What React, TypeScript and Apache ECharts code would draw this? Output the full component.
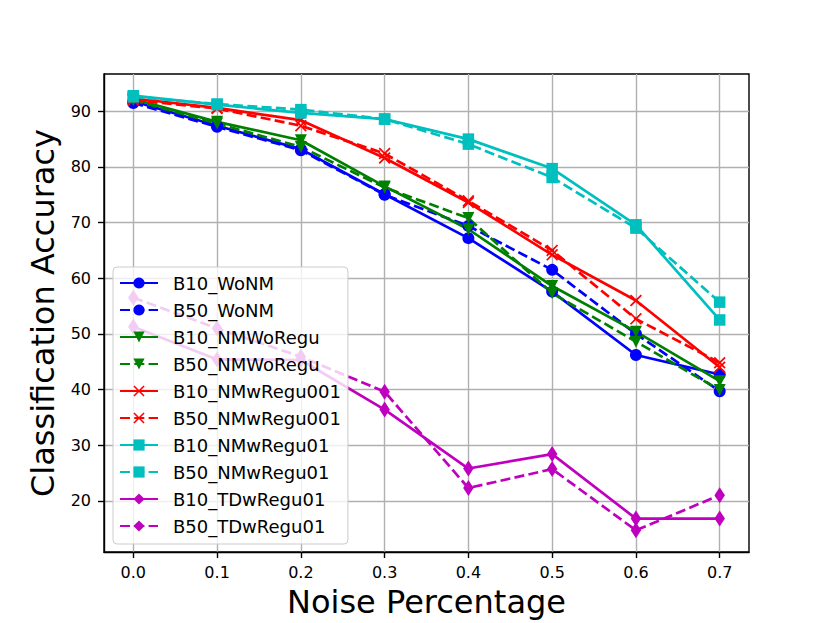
import React, { useEffect, useRef } from "react";
import * as echarts from "echarts";

const NOISE = [0.0, 0.1, 0.2, 0.3, 0.4, 0.5, 0.6, 0.7];
const X_TICKS = [0.0, 0.1, 0.2, 0.3, 0.4, 0.5, 0.6, 0.7];
const Y_TICKS = [20, 30, 40, 50, 60, 70, 80, 90];

const B10_WoNM = [91.8, 87.4, 83.2, 75.1, 67.2, 57.6, 46.2, 42.7];
const B50_WoNM = [91.5, 87.2, 83.0, 75.0, 69.4, 61.5, 50.0, 39.7];
const B10_NMWoRegu = [92.2, 88.1, 84.8, 76.5, 68.8, 58.6, 50.4, 41.5];
const B50_NMWoRegu = [92.0, 87.8, 83.6, 76.3, 70.8, 57.3, 48.6, 39.9];
const B10_NMwRegu001 = [92.3, 90.6, 88.4, 81.6, 73.6, 64.2, 56.0, 44.0];
const B50_NMwRegu001 = [92.0, 90.5, 87.4, 82.4, 73.9, 65.0, 52.7, 44.8];
const B10_NMwRegu01 = [92.8, 91.2, 89.7, 88.6, 85.0, 79.7, 69.6, 52.5];
const B50_NMwRegu01 = [92.6, 91.3, 90.3, 88.6, 84.1, 78.1, 69.0, 55.7];
const B10_TDwRegu01 = [51.3, 45.4, 45.3, 36.4, 25.8, 28.4, 16.8, 16.8];
const B50_TDwRegu01 = [56.5, 51.0, 45.9, 39.6, 22.3, 25.7, 14.7, 21.0];

const X_MARK = "path://M1,0L5,4L9,0L10,1L6,5L10,9L9,10L5,6L1,10L0,9L4,5L0,1Z";
const FONT = "DejaVu Sans";
const DASH = [10, 4.3];

type Spec = {
  name: string;
  values: number[];
  color: string;
  dashed: boolean;
  symbol: string;
  size: number | number[];
  rotate?: number;
};

const SERIES: Spec[] = [
  { name: "B10_WoNM", values: B10_WoNM, color: "#0000ff", dashed: false, symbol: "circle", size: 12 },
  { name: "B50_WoNM", values: B50_WoNM, color: "#0000ff", dashed: true, symbol: "circle", size: 12 },
  { name: "B10_NMWoRegu", values: B10_NMWoRegu, color: "#008000", dashed: false, symbol: "triangle", size: 12, rotate: 180 },
  { name: "B50_NMWoRegu", values: B50_NMWoRegu, color: "#008000", dashed: true, symbol: "triangle", size: 12, rotate: 180 },
  { name: "B10_NMwRegu001", values: B10_NMwRegu001, color: "#ff0000", dashed: false, symbol: X_MARK, size: 12 },
  { name: "B50_NMwRegu001", values: B50_NMwRegu001, color: "#ff0000", dashed: true, symbol: X_MARK, size: 12 },
  { name: "B10_NMwRegu01", values: B10_NMwRegu01, color: "#00bfbf", dashed: false, symbol: "rect", size: 11.5 },
  { name: "B50_NMwRegu01", values: B50_NMwRegu01, color: "#00bfbf", dashed: true, symbol: "rect", size: 11.5 },
  { name: "B10_TDwRegu01", values: B10_TDwRegu01, color: "#bf00bf", dashed: false, symbol: "diamond", size: [10.5, 16] },
  { name: "B50_TDwRegu01", values: B50_TDwRegu01, color: "#bf00bf", dashed: true, symbol: "diamond", size: [10.5, 16] },
];

export default function App() {
  const ref = useRef<HTMLDivElement>(null);
  useEffect(() => {
    document.body.style.margin = "0";
    if (!ref.current) return;
    const chart = echarts.init(ref.current, null, { renderer: "svg" });
    const axisLine = { show: true, onZero: false, lineStyle: { color: "#000", width: 1.4 } };
    chart.setOption({
      animation: false,
      backgroundColor: "#fff",
      textStyle: { fontFamily: FONT },
      grid: {
        left: 104,
        right: 82,
        top: 74,
        bottom: 69,
        show: true,
        borderColor: "#000",
        borderWidth: 1.4,
        backgroundColor: "transparent",
      },
      xAxis: {
        type: "value",
        min: -0.035,
        max: 0.735,
        name: "Noise Percentage",
        nameLocation: "middle",
        nameGap: 34,
        nameTextStyle: { fontSize: 32, color: "#000", fontFamily: FONT },
        axisLine,
        axisTick: { show: true, length: 6, customValues: X_TICKS, lineStyle: { color: "#000", width: 1.4 } },
        axisLabel: {
          customValues: X_TICKS,
          formatter: (v: number) => v.toFixed(1),
          fontSize: 16,
          color: "#000",
          fontFamily: FONT,
          margin: 12,
        },
        splitLine: { show: true, lineStyle: { color: "#b0b0b0", width: 1.4 } },
      },
      yAxis: {
        type: "value",
        min: 10.8,
        max: 96.7,
        name: "Classification Accuracy",
        nameLocation: "middle",
        nameGap: 45,
        nameTextStyle: { fontSize: 32, color: "#000", fontFamily: FONT },
        axisLine,
        axisTick: { show: true, length: 6, customValues: Y_TICKS, lineStyle: { color: "#000", width: 1.4 } },
        axisLabel: {
          customValues: Y_TICKS,
          fontSize: 16,
          color: "#000",
          fontFamily: FONT,
          margin: 13,
        },
        splitLine: { show: true, lineStyle: { color: "#b0b0b0", width: 1.4 } },
      },
      legend: {
        orient: "vertical",
        left: 113,
        top: 267,
        padding: [7, 7, 9, 6],
        itemWidth: 38,
        itemHeight: 14,
        itemGap: 9,
        backgroundColor: "rgba(255,255,255,0.8)",
        borderColor: "#cccccc",
        borderWidth: 1,
        borderRadius: 4,
        selectedMode: false,
        textStyle: { fontSize: 18, color: "#000", fontFamily: FONT, lineHeight: 18, padding: [0, 0, 0, 10] },
        data: SERIES.map((s) => s.name),
      },
      series: SERIES.map((s) => ({
        name: s.name,
        type: "line",
        data: NOISE.map((x, i) => [x, s.values[i]]),
        symbol: s.symbol,
        symbolSize: s.size,
        symbolRotate: s.rotate ?? 0,
        color: s.color,
        itemStyle: { color: s.color, borderWidth: 0 },
        lineStyle: { color: s.color, width: 2.7, type: s.dashed ? DASH : "solid" },
        emphasis: { disabled: true },
      })),
    });
    return () => chart.dispose();
  }, []);
  return <div ref={ref} style={{ width: 831, height: 623 }} />;
}
